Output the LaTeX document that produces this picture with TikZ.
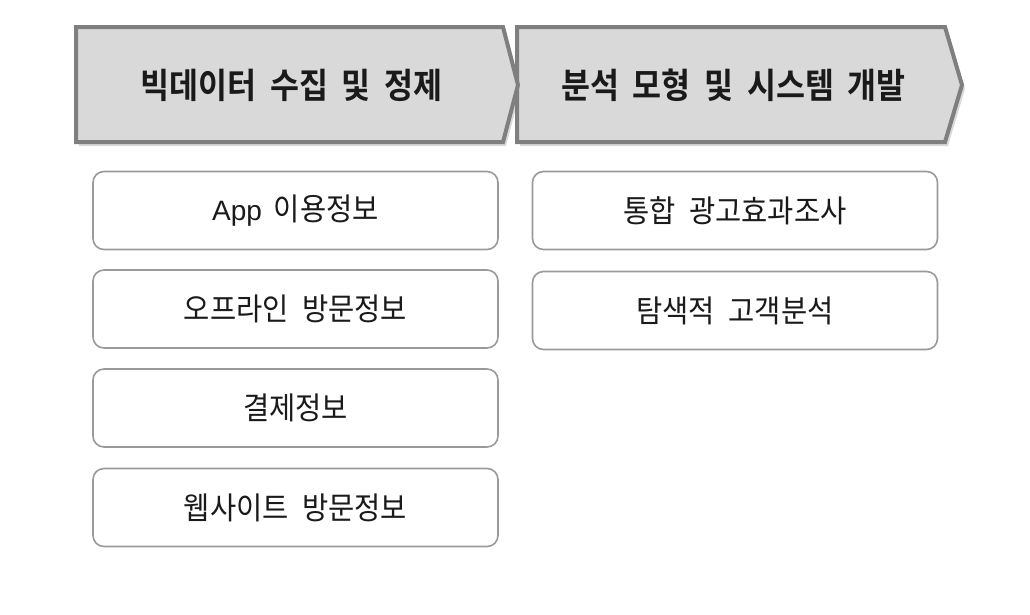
\documentclass[tikz,border=0pt]{standalone}
\usepackage{fontspec}
\setmainfont{Noto Sans CJK KR}[FakeStretch=0.92, WordSpace=2.1]
\newfontfamily\krbold{Noto Sans CJK KR Bold}[FakeStretch=0.9, WordSpace=1.9]
\newfontfamily\latinsans{Liberation Sans}
\definecolor{hdrfill}{HTML}{D9D9D9}
\definecolor{hdrline}{HTML}{7F7F7F}
\definecolor{boxline}{HTML}{9A9A9A}
\definecolor{txt}{HTML}{1A1A1A}
\tikzset{
  chev/.style={fill=hdrfill, draw=hdrline, line width=4pt, line join=miter},
  chevshadow/.style={fill=black, opacity=0.15},
  hdrtext/.style={text=txt, font=\krbold\fontsize{35}{38}\selectfont, inner sep=0pt},
  itembox/.style={draw=boxline, line width=1.6pt, rounded corners=11pt, fill=white,
    minimum width=405pt, minimum height=78pt, inner sep=0pt, text=txt,
    font=\fontsize{31}{34}\selectfont}
}
\begin{document}
\begin{tikzpicture}[x=1pt,y=-1pt]
\useasboundingbox (0,0) rectangle (1030,614);
% shadows
\fill[chevshadow] (79,31) -- (506,31) -- (521,89) -- (506,146) -- (79,146) -- cycle;
\fill[chevshadow] (520,31) -- (948,31) -- (965,89) -- (948,146) -- (520,146) -- cycle;
% chevrons
\draw[chev] (517,27) -- (945,27) -- (962,85) -- (945,142) -- (517,142) -- cycle;
\draw[chev] (76,27) -- (503,27) -- (518,85) -- (503,142) -- (76,142) -- cycle;
\node[hdrtext] (h1) at (291.5,85) {빅데이터 수집 및 정제};
\node[hdrtext] (h2) at (733.5,85) {분석 모형 및 시스템 개발};
% left column
\node[itembox] (l1) at (295.5,210.5) {{\latinsans\fontsize{28}{30}\selectfont App}\hspace{12pt}이용정보};
\node[itembox] (l2) at (295.5,309) {오프라인 방문정보};
\node[itembox] (l3) at (295.5,408) {결제정보};
\node[itembox] (l4) at (295.5,507.5) {웹사이트 방문정보};
% right column
\node[itembox] (r1) at (735,210.5) {통합 광고효과조사};
\node[itembox] (r2) at (735,310.5) {탐색적 고객분석};
\end{tikzpicture}
\end{document}
